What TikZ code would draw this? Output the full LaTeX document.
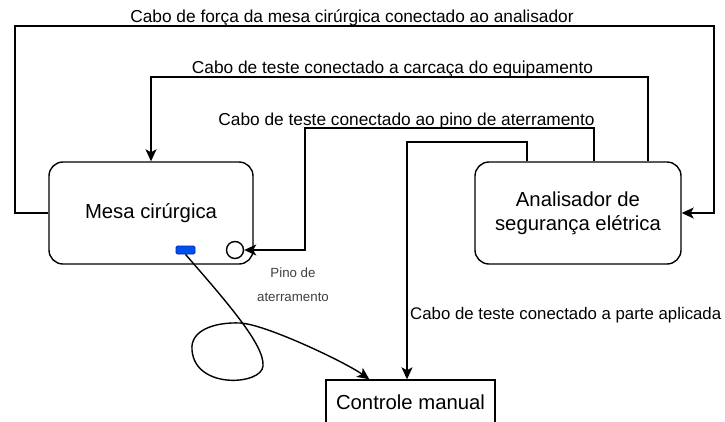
\documentclass[tikz,border=0pt]{standalone}
\usepackage{fontspec}
\setmainfont{Liberation Sans}
\usetikzlibrary{arrows.meta,calc}
\definecolor{pinblue}{HTML}{0050EF}
\definecolor{pinedge}{HTML}{001DBC}
\begin{document}
\begin{tikzpicture}[x=1pt,y=-1pt, line width=1.4pt,
  box/.style={draw, rounded corners=14pt, inner sep=0pt, align=center, font=\fontsize{20.3}{24}\selectfont},
  conn/.style={-{Stealth[length=12pt,width=11pt,inset=3pt]}, line join=miter},
  lbl/.style={inner sep=0pt, font=\fontsize{17.3}{20}\selectfont}]
\useasboundingbox (0,0) rectangle (725,421);
\clip (0,0) rectangle (725,421);
% nodes
\node[box, minimum width=204pt, minimum height=102pt] (mesa) at (151,213) {Mesa cirúrgica};
\node[box, minimum width=206pt, minimum height=102pt] (anal) at (578,213) {Analisador de\\segurança elétrica};
\node[draw, minimum width=169pt, minimum height=44pt, inner sep=0pt, font=\fontsize{20.3}{24}\selectfont] (ctrl) at (410.5,402) {Controle manual};
\node[draw=pinedge, fill=pinblue, rounded corners=1.5pt, minimum width=19pt, minimum height=8pt, inner sep=0pt, line width=0.8pt] (blue) at (185.5,250) {};
\node[draw, circle, fill=white, minimum size=17pt, inner sep=0pt] (pin) at (235,250) {};
\node[font=\fontsize{13.3}{24}\selectfont, text=black!75, align=center, inner sep=0pt] (pl) at (293,285) {Pino de\\aterramento};
% coordinates
\coordinate (k1) at (15,26);
\coordinate (k2) at (714,26);
\coordinate (k3) at (648,77);
\coordinate (k4) at (151,77);
\coordinate (k5) at (594,128);
\coordinate (k6) at (305,128);
\coordinate (k7) at (527,142);
\coordinate (k8) at (407,142);
% connectors
\draw[conn] (mesa.west) -| (k1) -- (k2) |- (anal.east);
\draw[conn] (anal.north -| k3) -- (k3) -- (k4) -- (mesa.north);
\draw[conn] (anal.north -| k5) -- (k5) -- (k6) |- (pin.east);
\draw[conn] (anal.north -| k7) -- (k7) -- (k8) -- (ctrl.north -| k8);
\draw[conn] (blue.south) .. controls (225,300) and (265,345) .. (263,366)
  .. controls (262,385) and (195,390) .. (192,350)
  .. controls (190,330) and (215,322) .. (240,323)
  .. controls (265,324) and (345,362) .. ($(ctrl.north west)+(44,0)$);
% labels
\node[lbl, anchor=base] (l1) at (352,22) {Cabo de força da mesa cirúrgica conectado ao analisador};
\node[lbl, anchor=base] (l2) at (392.5,73) {Cabo de teste conectado a carcaça do equipamento};
\node[lbl, anchor=base] (l3) at (406.5,125) {Cabo de teste conectado ao pino de aterramento};
\node[lbl, anchor=base west, font=\fontsize{16.8}{20}\selectfont] (l4) at (409.5,319) {Cabo de teste conectado a parte aplicada};
\end{tikzpicture}
\end{document}
